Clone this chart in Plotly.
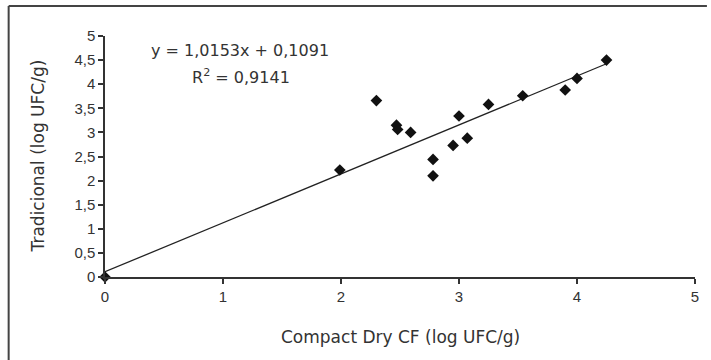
import plotly.graph_objects as go

compact_dry = [0, 1.99, 2.30, 2.47, 2.48, 2.59, 2.78, 2.78, 2.95, 3.00, 3.07, 3.25, 3.54, 3.90, 4.00, 4.25]
tradicional = [0, 2.22, 3.66, 3.15, 3.06, 3.00, 2.44, 2.10, 2.73, 3.34, 2.88, 3.58, 3.76, 3.88, 4.12, 4.50]
slope = 1.0153
intercept = 0.1091
r2_label = "R<sup>2</sup> = 0,9141"
eq_label = "y = 1,0153x + 0,1091"
tick_vals_x = [0, 1, 2, 3, 4, 5]
tick_vals_y = [0, 0.5, 1, 1.5, 2, 2.5, 3, 3.5, 4, 4.5, 5]
tick_text_y = ["0", "0,5", "1", "1,5", "2", "2,5", "3", "3,5", "4", "4,5", "5"]

line_x = [0, max(compact_dry)]
line_y = [intercept + slope * v for v in line_x]

font = "Liberation Sans, Arial, sans-serif"
tfont = "DejaVu Sans, Verdana, sans-serif"
fig = go.Figure()
fig.add_trace(go.Scatter(x=line_x, y=line_y, mode="lines",
                         line=dict(color="#222", width=1.3), showlegend=False))
fig.add_trace(go.Scatter(x=compact_dry, y=tradicional, mode="markers",
                         marker=dict(symbol="diamond", size=9, color="#111"),
                         showlegend=False, cliponaxis=False))

fig.update_layout(
    width=711, height=360,
    margin=dict(l=105, r=12, t=36, b=83),
    paper_bgcolor="white", plot_bgcolor="white",
    font=dict(family=font, size=14, color="#333"),
    xaxis=dict(range=[0, 5], tickvals=tick_vals_x, showgrid=False, zeroline=False,
               showline=True, linecolor="#333", linewidth=1.5,
               ticks="outside", ticklen=5, tickcolor="#333", tickwidth=1.5,
               tickfont=dict(size=15, color="#333")),
    yaxis=dict(range=[0, 5], tickvals=tick_vals_y, ticktext=tick_text_y, showgrid=False,
               zeroline=False, showline=True, linecolor="#333", linewidth=1.5,
               ticks="outside", ticklen=5, tickcolor="#333", tickwidth=1.5,
               tickfont=dict(size=15, color="#333")),
    annotations=[
        dict(text=eq_label, xref="paper", yref="paper", x=(241 - 105) / 594, y=(277 - 50) / 241,
             showarrow=False, xanchor="center", yanchor="middle",
             font=dict(family=tfont, size=16, color="#333")),
        dict(text=r2_label, xref="paper", yref="paper", x=(242 - 105) / 594, y=(277 - 77) / 241,
             showarrow=False, xanchor="center", yanchor="middle",
             font=dict(family=tfont, size=16, color="#333")),
        dict(text="Compact Dry CF (log UFC/g)", xref="paper", yref="paper", x=0.5,
             y=(277 - 337) / 241, showarrow=False, xanchor="center", yanchor="middle",
             font=dict(family=tfont, size=17, color="#333")),
        dict(text="Tradicional (log UFC/g)", xref="paper", yref="paper",
             x=(38 - 105) / 594, y=(277 - 156) / 241, textangle=-90, showarrow=False,
             xanchor="center", yanchor="middle", font=dict(family=tfont, size=17, color="#333")),
    ],
    shapes=[
        dict(type="line", xref="paper", yref="paper", x0=(8 - 105) / 594, x1=(711 - 105) / 594,
             y0=(277 - 6) / 241, y1=(277 - 6) / 241, line=dict(color="#444", width=2)),
        dict(type="line", xref="paper", yref="paper", x0=(8 - 105) / 594, x1=(8 - 105) / 594,
             y0=(277 - 6) / 241, y1=(277 - 360) / 241, line=dict(color="#444", width=2)),
    ],
)

fig.write_html("out.html")
